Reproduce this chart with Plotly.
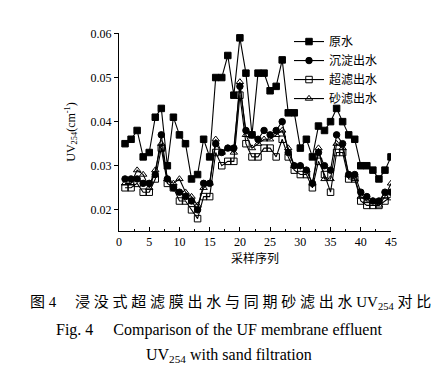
import plotly.graph_objects as go

sample = list(range(1, 46))
raw = [0.035, 0.036, 0.038, 0.032, 0.033, 0.041, 0.043, 0.030, 0.041, 0.037,
       0.035, 0.027, 0.028, 0.036, 0.032, 0.050, 0.050, 0.055, 0.046, 0.059,
       0.051, 0.037, 0.051, 0.051, 0.047, 0.048, 0.054, 0.042, 0.042, 0.034,
       0.036, 0.032, 0.039, 0.038, 0.040, 0.043, 0.040, 0.037, 0.036, 0.030,
       0.030, 0.029, 0.027, 0.029, 0.032]
sed = [0.027, 0.027, 0.027, 0.026, 0.026, 0.028, 0.037, 0.027, 0.025, 0.024,
       0.023, 0.022, 0.020, 0.026, 0.026, 0.035, 0.033, 0.034, 0.034, 0.048,
       0.038, 0.037, 0.036, 0.038, 0.037, 0.038, 0.040, 0.033, 0.030, 0.030,
       0.029, 0.026, 0.033, 0.030, 0.029, 0.037, 0.035, 0.028, 0.028, 0.024,
       0.023, 0.022, 0.022, 0.024, 0.024]
uf = [0.025, 0.025, 0.026, 0.024, 0.024, 0.027, 0.034, 0.026, 0.025, 0.022,
      0.022, 0.020, 0.018, 0.023, 0.023, 0.033, 0.030, 0.031, 0.031, 0.046,
      0.035, 0.032, 0.032, 0.034, 0.034, 0.032, 0.036, 0.032, 0.029, 0.028,
      0.028, 0.025, 0.031, 0.028, 0.024, 0.033, 0.033, 0.027, 0.027, 0.022,
      0.021, 0.021, 0.021, 0.022, 0.023]
sand = [0.026, 0.026, 0.029, 0.028, 0.025, 0.029, 0.035, 0.027, 0.026, 0.027,
        0.024, 0.023, 0.021, 0.025, 0.026, 0.036, 0.033, 0.034, 0.033, 0.049,
        0.037, 0.034, 0.035, 0.036, 0.036, 0.037, 0.038, 0.034, 0.030, 0.030,
        0.029, 0.026, 0.034, 0.027, 0.027, 0.035, 0.034, 0.028, 0.027, 0.023,
        0.022, 0.022, 0.021, 0.023, 0.026]

names = ["原水", "沉淀出水", "超滤出水", "砂滤出水"]
series = [raw, sed, uf, sand]
symbols = ["square", "circle", "square-open", "triangle-up-open"]

SERIF = "'Liberation Serif', 'Noto Sans CJK SC', serif"

fig = go.Figure()
for name, vals, sym in zip(names, series, symbols):
    fig.add_trace(go.Scatter(
        x=sample, y=vals, name=name, mode="lines+markers",
        line=dict(color="black", width=1.1),
        marker=dict(symbol=sym, size=6.5, color="black",
                    line=dict(color="black", width=1)),
    ))

fig.update_layout(
    width=440, height=373,
    margin=dict(l=111, r=57, t=25, b=150),
    paper_bgcolor="white", plot_bgcolor="white",
    font=dict(family=SERIF, size=12, color="black"),
    showlegend=True,
    legend=dict(x=0.625, y=1.03, xanchor="left", yanchor="top",
                bgcolor="rgba(0,0,0,0)", font=dict(size=12),
                itemwidth=30, tracegroupgap=0),
    xaxis=dict(range=[0, 45], tickvals=[0, 5, 10, 15, 20, 25, 30, 35, 40, 45],
               showline=True, linecolor="black", linewidth=1,
               ticks="inside", ticklen=4, tickcolor="black",
               minor=dict(dtick=2.5, ticks="inside", ticklen=2, tickcolor="black"),
               showgrid=False, zeroline=False,
               tickfont=dict(size=12),
               title=dict(text="采样序列", font=dict(size=12), standoff=6)),
    yaxis=dict(range=[0.0152, 0.0601], tickvals=[0.02, 0.03, 0.04, 0.05, 0.06],
               ticktext=["0.02", "0.03", "0.04", "0.05", "0.06"],
               showline=True, linecolor="black", linewidth=1,
               ticks="outside", ticklen=4, tickcolor="black",
               showgrid=False, zeroline=False,
               tickfont=dict(size=12),
               title=dict(text="UV<sub>254</sub>(cm<sup>-1</sup>)", font=dict(size=12),
                          standoff=12)),
)

def px2paper_x(px):
    return (px - 111) / 272.0

def py2paper_y(py):
    return (223 - py) / 198.0

T = "\u2005"
cap1_cn = T.join("浸没式超滤膜出水与同期砂滤出水")
cap1 = "图" + T + "4" + "\u00a0" * 5 + cap1_cn + " UV<sub>254</sub>" + T + "对" + T + "比"
fig.add_annotation(text=cap1,
                   xref="paper", yref="paper", x=px2paper_x(20), y=py2paper_y(295),
                   xanchor="left", yanchor="middle", showarrow=False,
                   font=dict(size=15, family=SERIF))
fig.add_annotation(text="Fig. 4" + "\u00a0" * 5 + "Comparison of the UF membrane effluent",
                   xref="paper", yref="paper", x=px2paper_x(46), y=py2paper_y(322),
                   xanchor="left", yanchor="middle", showarrow=False,
                   font=dict(size=16, family=SERIF))
fig.add_annotation(text="UV<sub>254</sub> with sand filtration",
                   xref="paper", yref="paper", x=px2paper_x(221), y=py2paper_y(347),
                   xanchor="center", yanchor="middle", showarrow=False,
                   font=dict(size=16, family=SERIF))

fig.write_html("out.html")
